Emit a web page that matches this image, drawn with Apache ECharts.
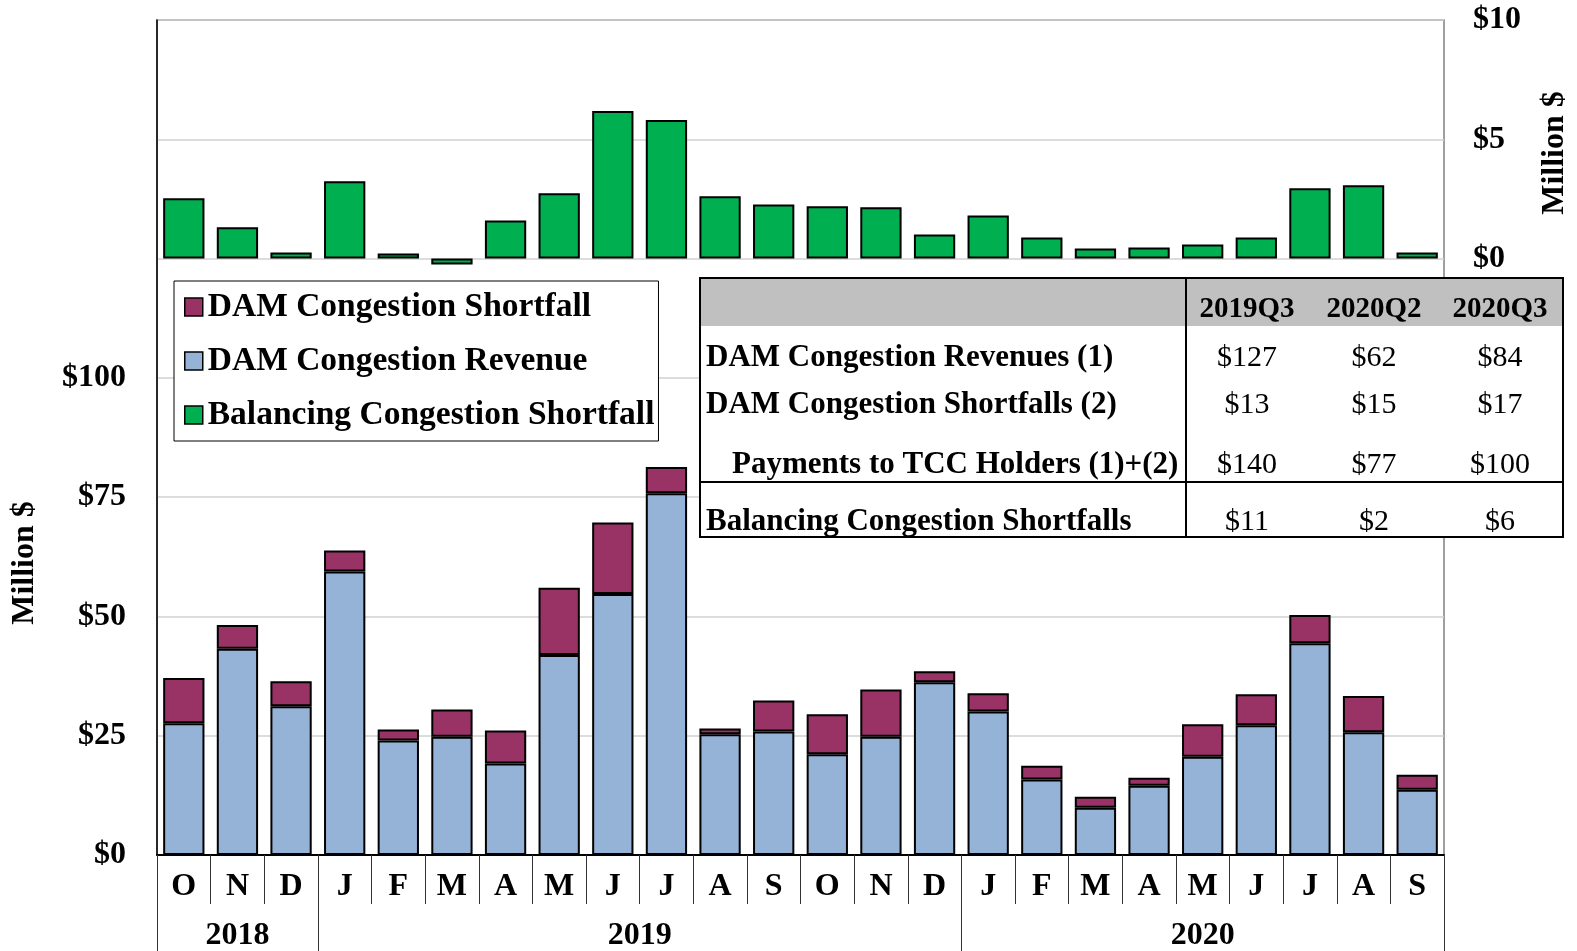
<!DOCTYPE html>
<html>
<head>
<meta charset="utf-8">
<title>DAM Congestion Revenue and Shortfalls</title>
<script src="https://cdn.jsdelivr.net/npm/echarts@6/dist/echarts.min.js"></script>
<style>
  html, body { margin: 0; padding: 0; background: #fff; }
  #chart { width: 1577px; height: 951px; }
</style>
</head>
<body>
<div id="chart"></div>
<script>
// months Oct 2018 - Sep 2020
const months = ['O', 'N', 'D', 'J', 'F', 'M', 'A', 'M', 'J', 'J', 'A', 'S',
  'O', 'N', 'D', 'J', 'F', 'M', 'A', 'M', 'J', 'J', 'A', 'S']
const years = ['2018', '2019', '2020']
const yearSpans = [3, 12, 9]

// million $
const damRevenue = [27.6, 43.2, 31.2, 59.4, 24.0, 24.8, 19.2, 41.9, 54.7, 75.8, 25.3, 25.9,
  21.1, 24.8, 36.2, 30.1, 15.8, 9.9, 14.5, 20.6, 27.2, 44.4, 25.7, 13.7]
const damShortfall = [9.5, 5.0, 5.2, 4.4, 2.3, 5.7, 6.9, 14.1, 15.0, 5.5, 1.2, 6.5,
  8.4, 9.9, 2.3, 3.8, 2.9, 2.3, 1.7, 6.8, 6.5, 5.9, 7.6, 3.1]
const balShortfall = [2.53, 1.31, 0.25, 3.24, 0.21, -0.25, 1.6, 2.74, 6.19, 5.81, 2.61, 2.27,
  2.19, 2.15, 1.01, 1.81, 0.88, 0.42, 0.46, 0.59, 0.88, 2.95, 3.07, 0.25]

// summary table
const quarters = ['2019Q3', '2020Q2', '2020Q3']
const rowLabels = ['DAM Congestion Revenues (1)', 'DAM Congestion Shortfalls (2)',
  'Payments to TCC Holders (1)+(2)', 'Balancing Congestion Shortfalls']
const qRevenue = [127, 62, 84]
const qShortfall = [13, 15, 17]
const qPayments = [140, 77, 100]
const qBalancing = [11, 2, 6]

const FONT = 'Liberation Serif'
const names = ['DAM Congestion Shortfall', 'DAM Congestion Revenue', 'Balancing Congestion Shortfall']

// year blocks on a 0..24 scale under the months
const yearEdges = [0]
yearSpans.forEach(s => yearEdges.push(yearEdges[yearEdges.length - 1] + s))
const yearCenters = years.map((y, i) => (yearEdges[i] + yearEdges[i + 1]) / 2)

const labelFont = { fontFamily: FONT, fontWeight: 'bold', fontSize: 32, color: '#000', lineHeight: 32 }

const bar = (name, data, color, extra) => Object.assign({
  name,
  type: 'bar',
  data,
  barWidth: '77%',
  barGap: '-100%',
  itemStyle: { color, borderColor: '#000', borderWidth: 2 }
}, extra)

// table drawn with graphic elements
const tb = { left: 700, top: 278, right: 1563, bottom: 537, head: 326, split: 1186, rule: 482 }
const colX = [1247, 1374, 1500]
const rowY = [358, 405, 465, 522]
const rowX = [706, 706, 732, 706]
const tableRows = [qRevenue, qShortfall, qPayments, qBalancing]

const txt = (text, x, y, size, bold, align) => ({
  type: 'text',
  z: 101,
  style: {
    text, x, y,
    font: (bold ? 'bold ' : '') + size + 'px "' + FONT + '"',
    fill: '#000',
    align, textAlign: align,
    verticalAlign: 'middle', textVerticalAlign: 'middle'
  }
})
const line = (x1, y1, x2, y2) => ({
  type: 'line', z: 102,
  shape: { x1, y1, x2, y2 },
  style: { stroke: '#000', lineWidth: 2 }
})

const tableEls = [
  { type: 'rect', z: 100, shape: { x: tb.left, y: tb.top, width: tb.right - tb.left, height: tb.bottom - tb.top },
    style: { fill: '#fff', stroke: '#000', lineWidth: 2 } },
  { type: 'rect', z: 100, shape: { x: tb.left + 1, y: tb.top + 1, width: tb.right - tb.left - 2, height: tb.head - tb.top - 1 },
    style: { fill: '#c0c0c0' } },
  line(tb.split, tb.top, tb.split, tb.bottom),
  line(tb.left, tb.rule, tb.right, tb.rule),
  line(tb.left, tb.top, tb.right, tb.top)
]
quarters.forEach((q, i) => tableEls.push(txt(q, colX[i], 310, 29, true, 'center')))
rowLabels.forEach((r, i) => {
  tableEls.push(txt(r, rowX[i], rowY[i], 31, true, 'left'))
  tableRows[i].forEach((v, j) => tableEls.push(txt('$' + v, colX[j], rowY[i], 30, false, 'center')))
})

const chart = echarts.init(document.getElementById('chart'))

chart.setOption({
  animation: false,
  backgroundColor: '#fff',
  grid: {
    left: 157, right: 133, top: 20, bottom: 96,
    show: true, borderColor: '#808080', borderWidth: 1.5,
    outerBoundsMode: 'none'
  },
  legend: {
    orient: 'vertical',
    left: 174, top: 281,
    data: names,
    selectedMode: false,
    icon: 'rect',
    backgroundColor: '#fff',
    borderColor: '#000', borderWidth: 1,
    padding: [9, 4, 9, 10],
    itemGap: 20,
    itemWidth: 18, itemHeight: 18,
    itemStyle: { borderColor: '#000', borderWidth: 1.5 },
    textStyle: Object.assign({}, labelFont, { fontSize: 33.5, lineHeight: 33 }),
    z: 50
  },
  xAxis: [
    {
      type: 'category',
      data: months,
      position: 'bottom',
      axisLine: { onZero: false, lineStyle: { color: '#000', width: 2 } },
      axisTick: { show: true, interval: 0, length: 49, lineStyle: { color: '#333', width: 1 } },
      axisLabel: Object.assign({ interval: 0, margin: 16 }, labelFont),
      splitLine: { show: false }
    },
    {
      type: 'value',
      min: 0, max: 24,
      position: 'bottom',
      axisLine: { show: false, onZero: false },
      axisTick: { show: true, customValues: yearEdges, length: 96, lineStyle: { color: '#333', width: 1 } },
      axisLabel: Object.assign({
        customValues: yearCenters,
        margin: 65,
        formatter: v => years[yearCenters.indexOf(v)] || ''
      }, labelFont),
      splitLine: { show: false }
    }
  ],
  yAxis: [
    {
      type: 'value',
      min: 0, max: 175, interval: 25,
      position: 'left',
      axisLine: { show: true, lineStyle: { color: '#000', width: 1.5 } },
      axisTick: { show: false },
      axisLabel: Object.assign({ margin: 31, formatter: v => v <= 100 ? '$' + v : '' }, labelFont),
      splitLine: { show: true, lineStyle: { color: '#d0d0d0', width: 1.5 } }
    },
    {
      type: 'value',
      min: -25, max: 10, interval: 5,
      position: 'right',
      axisLine: { show: false },
      axisTick: { show: false },
      axisLabel: Object.assign({ margin: 29, formatter: v => v >= 0 ? '$' + v : '' }, labelFont),
      splitLine: { show: false }
    }
  ],
  series: [
    bar(names[1], damRevenue, '#95B3D7', { stack: 'dam' }),
    bar(names[0], damShortfall, '#993366', { stack: 'dam' }),
    bar(names[2], balShortfall, '#00B050', { yAxisIndex: 1 })
  ],
  graphic: [
    { type: 'text', x: 25, y: 563, rotation: Math.PI / 2, z: 10,
      style: { text: 'Million $', font: 'bold 32px "' + FONT + '"', fill: '#000',
        align: 'center', textAlign: 'center', verticalAlign: 'middle', textVerticalAlign: 'middle' } },
    { type: 'text', x: 1555, y: 153, rotation: Math.PI / 2, z: 10,
      style: { text: 'Million $', font: 'bold 32px "' + FONT + '"', fill: '#000',
        align: 'center', textAlign: 'center', verticalAlign: 'middle', textVerticalAlign: 'middle' } }
  ].concat(tableEls)
})
</script>
</body>
</html>
